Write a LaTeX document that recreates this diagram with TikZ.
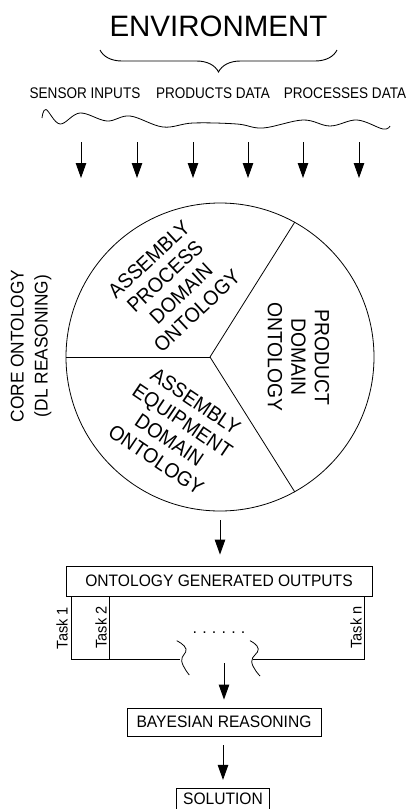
\documentclass[tikz,border=0pt]{standalone}
\usepackage{fontspec}
\setmainfont{Liberation Sans}
\newfontfamily\narrowsans[FakeStretch=0.88]{Liberation Sans}
\newfontfamily\condsans[FakeStretch=0.94]{Liberation Sans}
\usetikzlibrary{arrows.meta,decorations.pathreplacing}
\newcommand{\spdots}{.\hspace{5.2pt}.\hspace{5.2pt}.\hspace{5.2pt}.\hspace{5.2pt}.\hspace{5.2pt}.}
\begin{document}
\begin{tikzpicture}[x=1pt,y=-1pt,
  line width=0.8pt,
  conn/.style={draw, line width=0.9pt, -{Triangle[width=10.5pt,length=15pt]}},
  sensor/.style={font=\narrowsans\fontsize{15.4}{18}\selectfont, anchor=base, inner sep=0pt},
  pielabel/.style={font=\condsans\fontsize{20.6}{23.5}\selectfont, align=center, inner sep=0pt},
  sidelabel/.style={font=\condsans\fontsize{18.4}{24}\selectfont, align=center, inner sep=0pt},
  tasklabel/.style={font=\condsans\fontsize{15.5}{17}\selectfont, inner sep=0pt, rotate=90},
  boxnode/.style={draw, line width=0.8pt, inner sep=0pt, font=\condsans\fontsize{16.6}{19}\selectfont}
]
\useasboundingbox (0,0) rectangle (409,809);

% title and brace
\node[font=\fontsize{29.5}{34}\selectfont, anchor=base, inner sep=0pt] (env) at (218.5,36) {ENVIRONMENT};
\coordinate (braceL) at (100,50);
\coordinate (braceR) at (337,50);
\draw[line width=0.9pt, decorate, decoration={brace,mirror,amplitude=22pt}] (braceL) -- (braceR);

% input labels
\node[sensor] (sens) at (85,98) {SENSOR INPUTS};
\node[sensor] (prod) at (213,98) {PRODUCTS DATA};
\node[sensor] (proc) at (345,98) {PROCESSES DATA};

% wavy line
\draw[line width=0.8pt] plot[smooth, tension=0.6] coordinates {
 (42,118) (46,109.5) (60,124) (80,113) (107,121) (130,116) (163,127)
 (193,123) (237,124) (263,128) (303,120) (330,126) (357,120) (383,129) (390,126)};

% input arrows
\foreach \i/\x in {1/81,2/137,3/193,4/248,5/303,6/359}{
  \coordinate (in\i) at (\x,142);
  \coordinate (out\i) at (\x,178);
  \draw[conn] (in\i) -- (out\i);
}

% pie
\node[circle, draw, line width=0.8pt, minimum size=308pt, inner sep=0pt] (pie) at (220,357) {};
\coordinate (pc) at (210,357);
\draw (pc) -- (pie.180);
\draw (pc) -- (pie.61);
\draw (pc) -- (pie.-61);

\node[pielabel, rotate=43] (apdo) at (173,285) {ASSEMBLY\\PROCESS\\DOMAIN\\ONTOLOGY};
\node[pielabel, rotate=-34] (aedo) at (176,430.5) {ASSEMBLY\\EQUIPMENT\\DOMAIN\\ONTOLOGY};
\node[pielabel, rotate=-90] (pdo) at (298.5,357) {PRODUCT\\DOMAIN\\ONTOLOGY};

\node[sidelabel, rotate=90] (core) at (31,346) {CORE ONTOLOGY\\(DL REASONING)};

% outputs box
\node[boxnode, minimum width=306pt, minimum height=30pt] (outs) at (219,581) {ONTOLOGY GENERATED OUTPUTS};
\draw[conn, shorten <=9pt, shorten >=11pt] (pie.south) -- (pie.south |- outs.north);

% task columns
\coordinate (t1top) at (71,596);
\coordinate (t1bot) at (71,659);
\coordinate (t2top) at (109,596);
\coordinate (t2bot) at (109,659);
\coordinate (lend) at (180,659);
\coordinate (rstart) at (253,659);
\coordinate (rbot) at (364,659);
\coordinate (rtop) at (364,596);
\draw (t1top) -- (t1bot) -- (lend);
\draw (t2top) -- (t2bot);
\draw (rstart) -- (rbot) -- (rtop);

\node[tasklabel] (task1) at (62,628) {Task 1};
\node[tasklabel] (task2) at (101,627.5) {Task 2};
\node[tasklabel] (taskn) at (356,627.5) {Task n};

\node[font=\fontsize{16}{19}\selectfont, anchor=base, inner sep=0pt] (dots) at (219,633.5) {\spdots};

% break squiggles
\draw plot[smooth, tension=0.8] coordinates {(176.7,640.7) (186,649) (181.7,661) (189.3,675)};
\draw plot[smooth, tension=0.8] coordinates {(250,640.7) (258.3,649) (251.7,661.7) (260,676)};

% bayesian
\node[boxnode, minimum width=194pt, minimum height=28pt] (bayes) at (224,722) {BAYESIAN REASONING};
\coordinate (brk) at (224,663);
\draw[conn, shorten >=8pt] (brk) -- (bayes.north);

% solution
\node[boxnode, minimum width=92.6pt, minimum height=21.4pt] (sol) at (223,799) {SOLUTION};
\draw[conn, shorten <=9pt, shorten >=8pt] (bayes.south -| sol.north) -- (sol.north);

\end{tikzpicture}
\end{document}
